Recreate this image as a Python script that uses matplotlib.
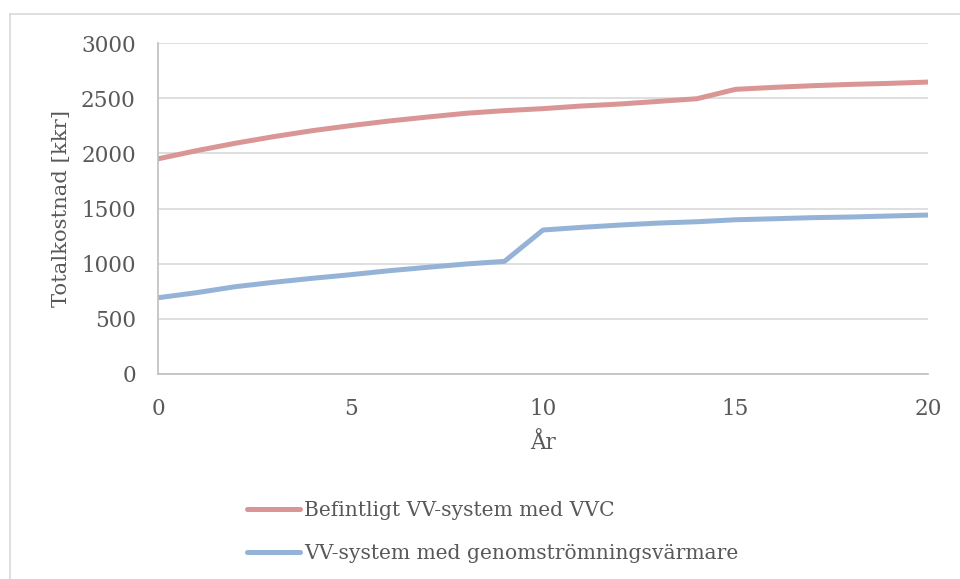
import matplotlib
matplotlib.use("Agg")
import matplotlib.pyplot as plt
from matplotlib.lines import Line2D

years = list(range(0, 21))
befintligt = [1950, 2024, 2091, 2151, 2205, 2251, 2293, 2329, 2363, 2387, 2405,
              2429, 2447, 2471, 2495, 2580, 2598, 2613, 2625, 2634, 2646]
genomstromning = [691, 737, 791, 831, 867, 900, 936, 967, 997, 1021, 1305,
                  1329, 1350, 1368, 1380, 1398, 1407, 1417, 1423, 1432, 1441]
labels = ["Befintligt VV-system med VVC", "VV-system med genomströmningsvärmare"]
colors = ["#d99694", "#95b3d7"]

plt.rcParams['font.family'] = ['DejaVu Serif']
txt = "#595959"

fig = plt.figure(figsize=(9.6, 5.79), dpi=100)
ax = fig.add_axes([158/960, 1-374/579, (928-158)/960, (374-43)/579])

ax.plot(years, befintligt, color=colors[0], lw=3.6, label=labels[0], solid_capstyle='butt')
ax.plot(years, genomstromning, color=colors[1], lw=3.6, label=labels[1], solid_capstyle='butt')

ax.set_xlim(0, 20)
ax.set_ylim(0, 3000)
ax.set_xticks([0, 5, 10, 15, 20])
ax.set_yticks(range(0, 3001, 500))
ax.grid(axis='y', color='#d9d9d9', lw=1.2)
ax.set_axisbelow(True)
for s in ['top', 'right']:
    ax.spines[s].set_visible(False)
for s in ['left', 'bottom']:
    ax.spines[s].set_color('#bfbfbf')
    ax.spines[s].set_linewidth(1.2)
ax.tick_params(axis='both', length=0, labelsize=15.5, labelcolor=txt)
ax.tick_params(axis='y', pad=16)
ax.tick_params(axis='x', pad=17)
ax.set_ylabel("Totalkostnad [kkr]", fontsize=15.2, color=txt, labelpad=7)
ax.set_xlabel("År", fontsize=15.5, color=txt, labelpad=9)

leg = fig.legend(loc='upper left', bbox_to_anchor=(247/960, 1-501/579), frameon=False,
                 fontsize=14.6, labelcolor=txt, handlelength=2.6, handletextpad=0.2,
                 labelspacing=1.2, borderpad=0, borderaxespad=0)
for h in leg.get_lines():
    h.set_solid_capstyle('round')

fig.add_artist(Line2D([10/960, 1], [1-14/579, 1-14/579], color='#d9d9d9', lw=1.2,
                      transform=fig.transFigure))
fig.add_artist(Line2D([10/960, 10/960], [0, 1-14/579], color='#d9d9d9', lw=1.2,
                      transform=fig.transFigure))

fig.savefig("out.png", dpi=100)
